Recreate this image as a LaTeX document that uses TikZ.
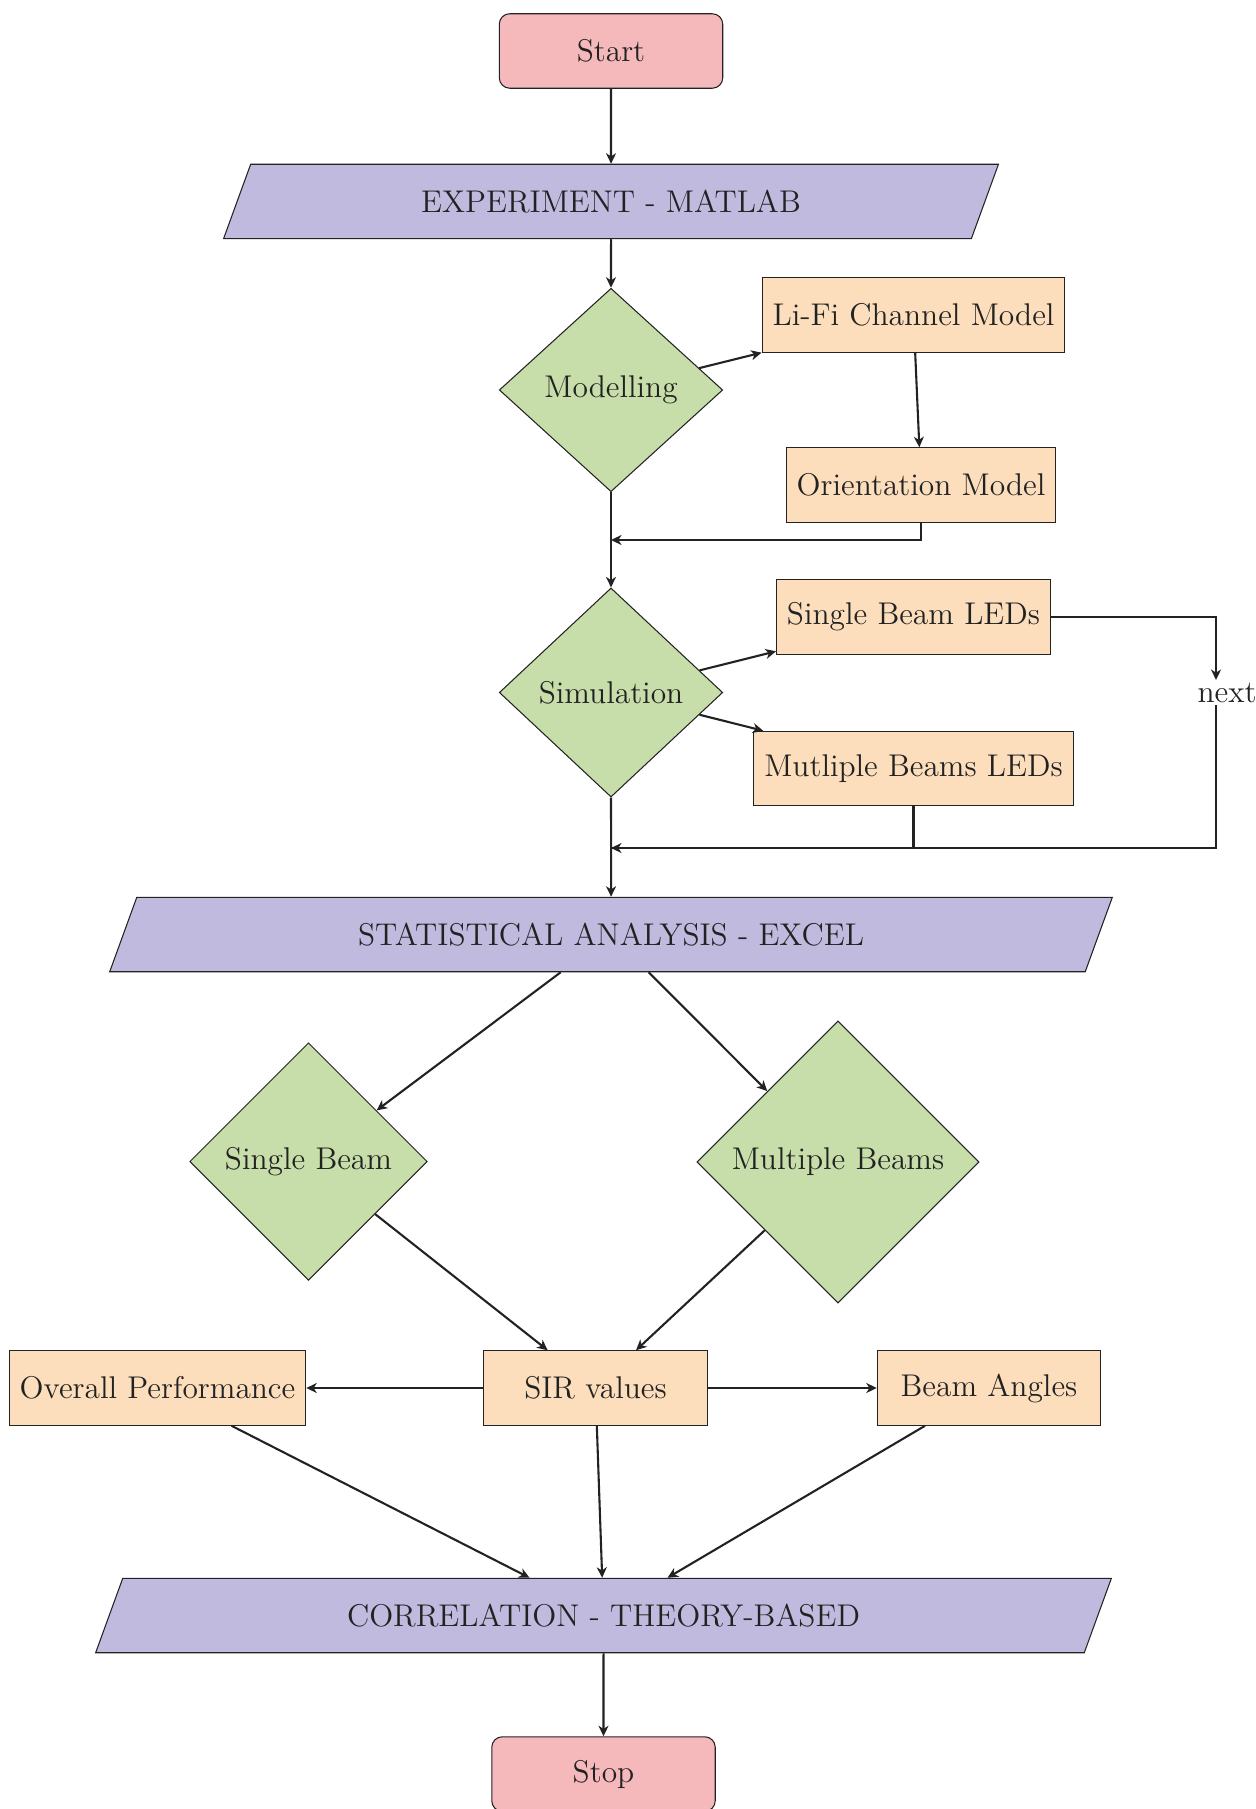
\documentclass[tikz,border=0pt,12pt]{standalone}
\usetikzlibrary{shapes.geometric,arrows.meta}
\definecolor{startc}{RGB}{245,185,188}
\definecolor{ioc}{RGB}{191,186,222}
\definecolor{decc}{RGB}{199,222,170}
\definecolor{procc}{RGB}{252,222,189}
\definecolor{inkc}{RGB}{34,34,34}
\begin{document}
\begin{tikzpicture}[x=0.382pt,y=-0.382pt,
  startstop/.style={rectangle, rounded corners, minimum width=3cm, minimum height=1cm, align=center, draw=inkc, fill=startc, text=inkc},
  io/.style={trapezium, trapezium left angle=70, trapezium right angle=110, trapezium stretches body, text height=8.6pt, text depth=0pt, inner ysep=9.92pt, minimum height=0pt, draw=inkc, fill=ioc, text=inkc},
  process/.style={rectangle, minimum width=3cm, minimum height=1cm, draw=inkc, fill=procc, text=inkc},
  decision/.style={diamond, aspect=1, minimum width=3cm, draw=inkc, fill=decc, text=inkc},
  arrow/.style={thick, draw=inkc, -{Stealth[length=4pt,width=3.8pt,inset=1.2pt]}},
  conn/.style={thick, draw=inkc}]
\useasboundingbox (0,0) rectangle (1256,1809);
\node[startstop] (start) at (611,51) {Start};
\node[io, minimum width=296pt] (exp) at (611,201.5) {EXPERIMENT - MATLAB};
\node[decision] (model) at (611,390) {Modelling};
\node[process] (lifi) at (913.5,315) {Li-Fi Channel Model};
\node[process] (orient) at (921,485) {Orientation Model};
\coordinate (j1) at (611,540);
\node[decision] (sim) at (611,692.5) {Simulation};
\node[process] (sbl) at (913.5,617) {Single Beam LEDs};
\node[process] (mbl) at (913.5,768.5) {Mutliple Beams LEDs};
\coordinate (nt) at (1216,680);
\coordinate (nb) at (1216,705);
\node[text=inkc, inner sep=0pt] (next) at (1227,693) {next};
\coordinate (j2) at (611,848);
\node[io, minimum width=383pt] (stat) at (611,934.5) {STATISTICAL ANALYSIS - EXCEL};
\node[decision] (single) at (308.5,1161.5) {Single Beam};
\node[decision] (multi) at (838,1162) {Multiple Beams};
\node[process] (sir) at (595.5,1388) {SIR values};
\node[process] (overall) at (157.5,1388) {Overall Performance};
\node[process] (angles) at (989,1388) {Beam Angles};
\node[io, minimum width=388pt] (corr) at (603.5,1615.5) {CORRELATION - THEORY-BASED};
\node[startstop] (stop) at (603.5,1774) {Stop};

\draw[arrow] (start) -- (exp);
\draw[arrow] (exp) -- (model);
\draw[arrow] (model) -- (lifi);
\draw[arrow] (lifi) -- (orient);
\draw[arrow] (orient.south) |- (j1);
\draw[arrow] (model) -- (sim);
\draw[arrow] (sim) -- (sbl);
\draw[arrow] (sim) -- (mbl);
\draw[arrow] (sbl.east) -| (nt);
\draw[arrow] (nb) |- (j2);
\draw[conn] (mbl.south) |- (j2);
\draw[arrow] (sim) -- (stat);
\draw[arrow] (stat) -- (single);
\draw[arrow] (stat) -- (multi);
\draw[arrow] (single) -- (sir);
\draw[arrow] (multi) -- (sir);
\draw[arrow] (sir) -- (overall);
\draw[arrow] (sir) -- (angles);
\draw[arrow] (overall) -- (corr);
\draw[arrow] (sir) -- (corr);
\draw[arrow] (angles) -- (corr);
\draw[arrow] (corr) -- (stop);
\end{tikzpicture}
\end{document}
